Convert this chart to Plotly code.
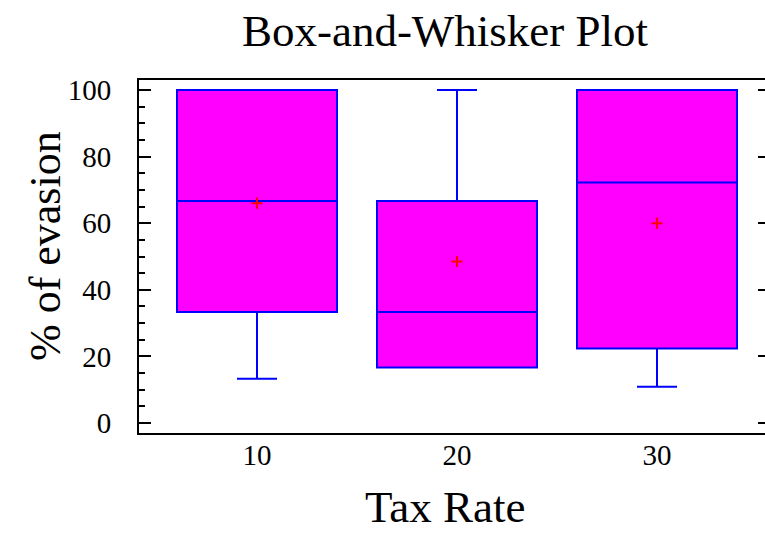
import plotly.graph_objects as go

categories = ["10", "20", "30"]
q1 = [33.3, 16.7, 22.4]
median = [66.7, 33.3, 72.2]
q3 = [100.0, 66.7, 100.0]
lower_whisker = [13.3, 16.7, 10.9]
upper_whisker = [100.0, 100.0, 100.0]
means = [66.0, 48.5, 60.0]

y_ticks = [0, 20, 40, 60, 80, 100]

FONT = "Liberation Serif, Times New Roman, serif"

W, H = 765, 537
L, R, T, B = 139, 0, 80, 104
PW, PH = W - L - R, H - T - B


def px_to_paper(x, y):
    return (x - L) / PW, (H - B - y) / PH


fig = go.Figure()
fig.add_trace(go.Box(
    x=categories, q1=q1, median=median, q3=q3,
    lowerfence=lower_whisker, upperfence=upper_whisker,
    fillcolor="#ff00ff", line=dict(color="#0000ff", width=2),
    whiskerwidth=0.25, width=0.8, boxpoints=False, showlegend=False,
    hoverinfo="skip",
))
fig.add_trace(go.Scatter(
    x=categories, y=means, mode="markers",
    marker=dict(symbol="cross-thin", size=8, line=dict(color="#ff0000", width=2), color="#ff0000"),
    showlegend=False, hoverinfo="skip",
))
# invisible trace to carry the right-hand tick axis
fig.add_trace(go.Scatter(x=categories, y=means, yaxis="y2", mode="markers",
                         marker=dict(opacity=0), showlegend=False, hoverinfo="skip"))

xt_x, xt_y = px_to_paper(445, 507)
yt_x, yt_y = px_to_paper(45, 246)

fig.update_layout(
    width=W, height=H,
    margin=dict(l=L, r=R, t=T, b=B, pad=0),
    paper_bgcolor="white", plot_bgcolor="white",
    font=dict(family=FONT, color="black"),
    title=dict(text="Box-and-Whisker Plot", x=445 / W, xanchor="center",
               y=1 - 30 / H, yanchor="middle", font=dict(size=45, family=FONT)),
    xaxis=dict(
        type="category", range=[-0.59, 2.54],
        showline=True, linecolor="black", linewidth=2, mirror=True,
        ticks="", showgrid=False, zeroline=False,
        tickfont=dict(size=29, family=FONT), ticklabelstandoff=-5,
    ),
    yaxis=dict(
        range=[-3, 103], tickvals=y_ticks, ticktext=[str(v) for v in y_ticks],
        showline=True, linecolor="black", linewidth=2,
        ticks="inside", ticklen=12, tickwidth=2, tickcolor="black",
        minor=dict(ticks="inside", dtick=5, ticklen=6, tickwidth=2, tickcolor="black", tick0=0),
        showgrid=False, zeroline=False,
        tickfont=dict(size=29, family=FONT), ticklabelstandoff=20,
    ),
    yaxis2=dict(
        overlaying="y", side="right", range=[-3, 103], tickvals=y_ticks,
        showticklabels=False, showline=False, showgrid=False, zeroline=False,
        ticks="inside", ticklen=7, tickwidth=2, tickcolor="black",
    ),
    annotations=[
        dict(text="Tax Rate", x=xt_x, y=xt_y, xref="paper", yref="paper",
             xanchor="center", yanchor="middle", showarrow=False,
             font=dict(size=45, family=FONT)),
        dict(text="% of evasion", x=yt_x, y=yt_y, xref="paper", yref="paper",
             xanchor="center", yanchor="middle", showarrow=False, textangle=-90,
             font=dict(size=44, family=FONT)),
    ],
)

fig.write_html("out.html", config={"displayModeBar": False},
               post_script="document.body.style.margin='0';")
